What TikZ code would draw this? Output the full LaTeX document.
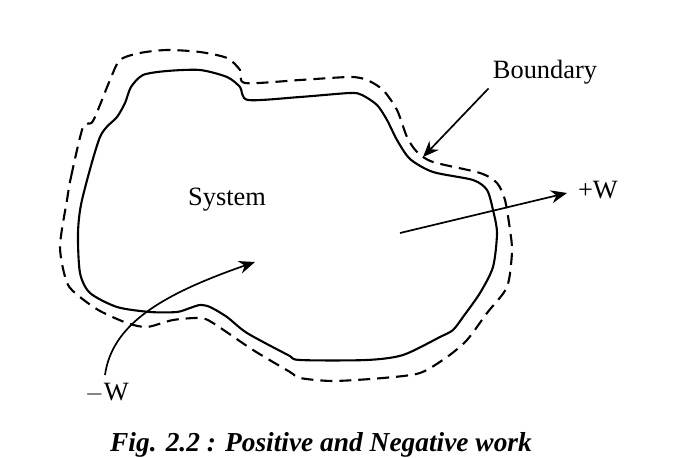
\documentclass[tikz,border=0pt]{standalone}
\usepackage{fontspec}
\setmainfont{Liberation Serif}
\usetikzlibrary{arrows.meta, positioning}

\begin{document}
\begin{tikzpicture}[
        x=0.5pt, y=-0.5pt,
        lbl/.style={font=\fontsize{13.2}{15}\selectfont, inner sep=2pt},
        sysline/.style={line width=1.05pt, line join=round},
        bndline/.style={line width=1.05pt, dash pattern=on 6pt off 3.5pt},
        arrowline/.style={-{Stealth[length=8pt, width=6.5pt]}, line width=0.85pt}
    ]
        \useasboundingbox (0,0) rectangle (695,458);

        % system (solid) and boundary (dashed)
        \draw[sysline] plot[smooth cycle, tension=0.45] coordinates {
            (82,200) (100,137) (117,117) (125,103) (131,87) (143,75) (167,71) (200,70)
            (227,77) (240,87) (248,100) (300,97) (350,93) (362,95) (377,105) (387,120)
            (397,140) (410,159) (433,172) (473,180) (487,190) (493,210) (497,233)
            (493,267) (480,293) (463,317) (453,330) (440,337) (403,355) (367,360)
            (300,360) (288,355) (247,333) (227,317) (210,307) (200,305) (190,308)
            (177,312) (150,312) (117,307) (90,293) (80,273) (78,233)};
        \draw[bndline] plot[smooth cycle, tension=0.45] coordinates {
            (67,200) (71,177) (83,127) (93,121) (110,80) (120,60) (140,53) (167,50)
            (200,52) (227,58) (240,70) (245,83) (300,80) (350,77) (367,80) (383,90)
            (397,110) (407,137) (417,152) (433,162) (480,173) (497,183) (505,200)
            (510,230) (512,252) (507,287) (487,313) (467,340) (447,357) (420,373)
            (383,378) (333,381) (300,378) (290,372) (253,350) (213,323) (200,318)
            (173,320) (147,327) (127,323) (100,311) (80,297) (67,283) (60,247)};

        \node[lbl] (system) at (227,200) {System};
        \node[lbl] (boundary) at (545,72) {Boundary};
        \node[lbl] (plusw) at (598,190) {+W};
        \node[lbl] (minusw) at (107,393) {$-$W};
        \node[font=\fontsize{13.7}{16}\selectfont\bfseries\itshape] (caption) at (321,445)
            {Fig. 2.2 : Positive and Negative work};

        \coordinate (btip) at (423,157);
        \coordinate (wout) at (400,233);
        \coordinate (wtip) at (567,193);
        \coordinate (win) at (105,375);
        \coordinate (wintip) at (255,262);

        \draw[arrowline] (boundary.south west) -- (btip);
        \draw[arrowline] (wout) -- (wtip);
        \draw[arrowline] (win) .. controls (112,325) and (160,295) .. (wintip);
    \end{tikzpicture}
\end{document}
